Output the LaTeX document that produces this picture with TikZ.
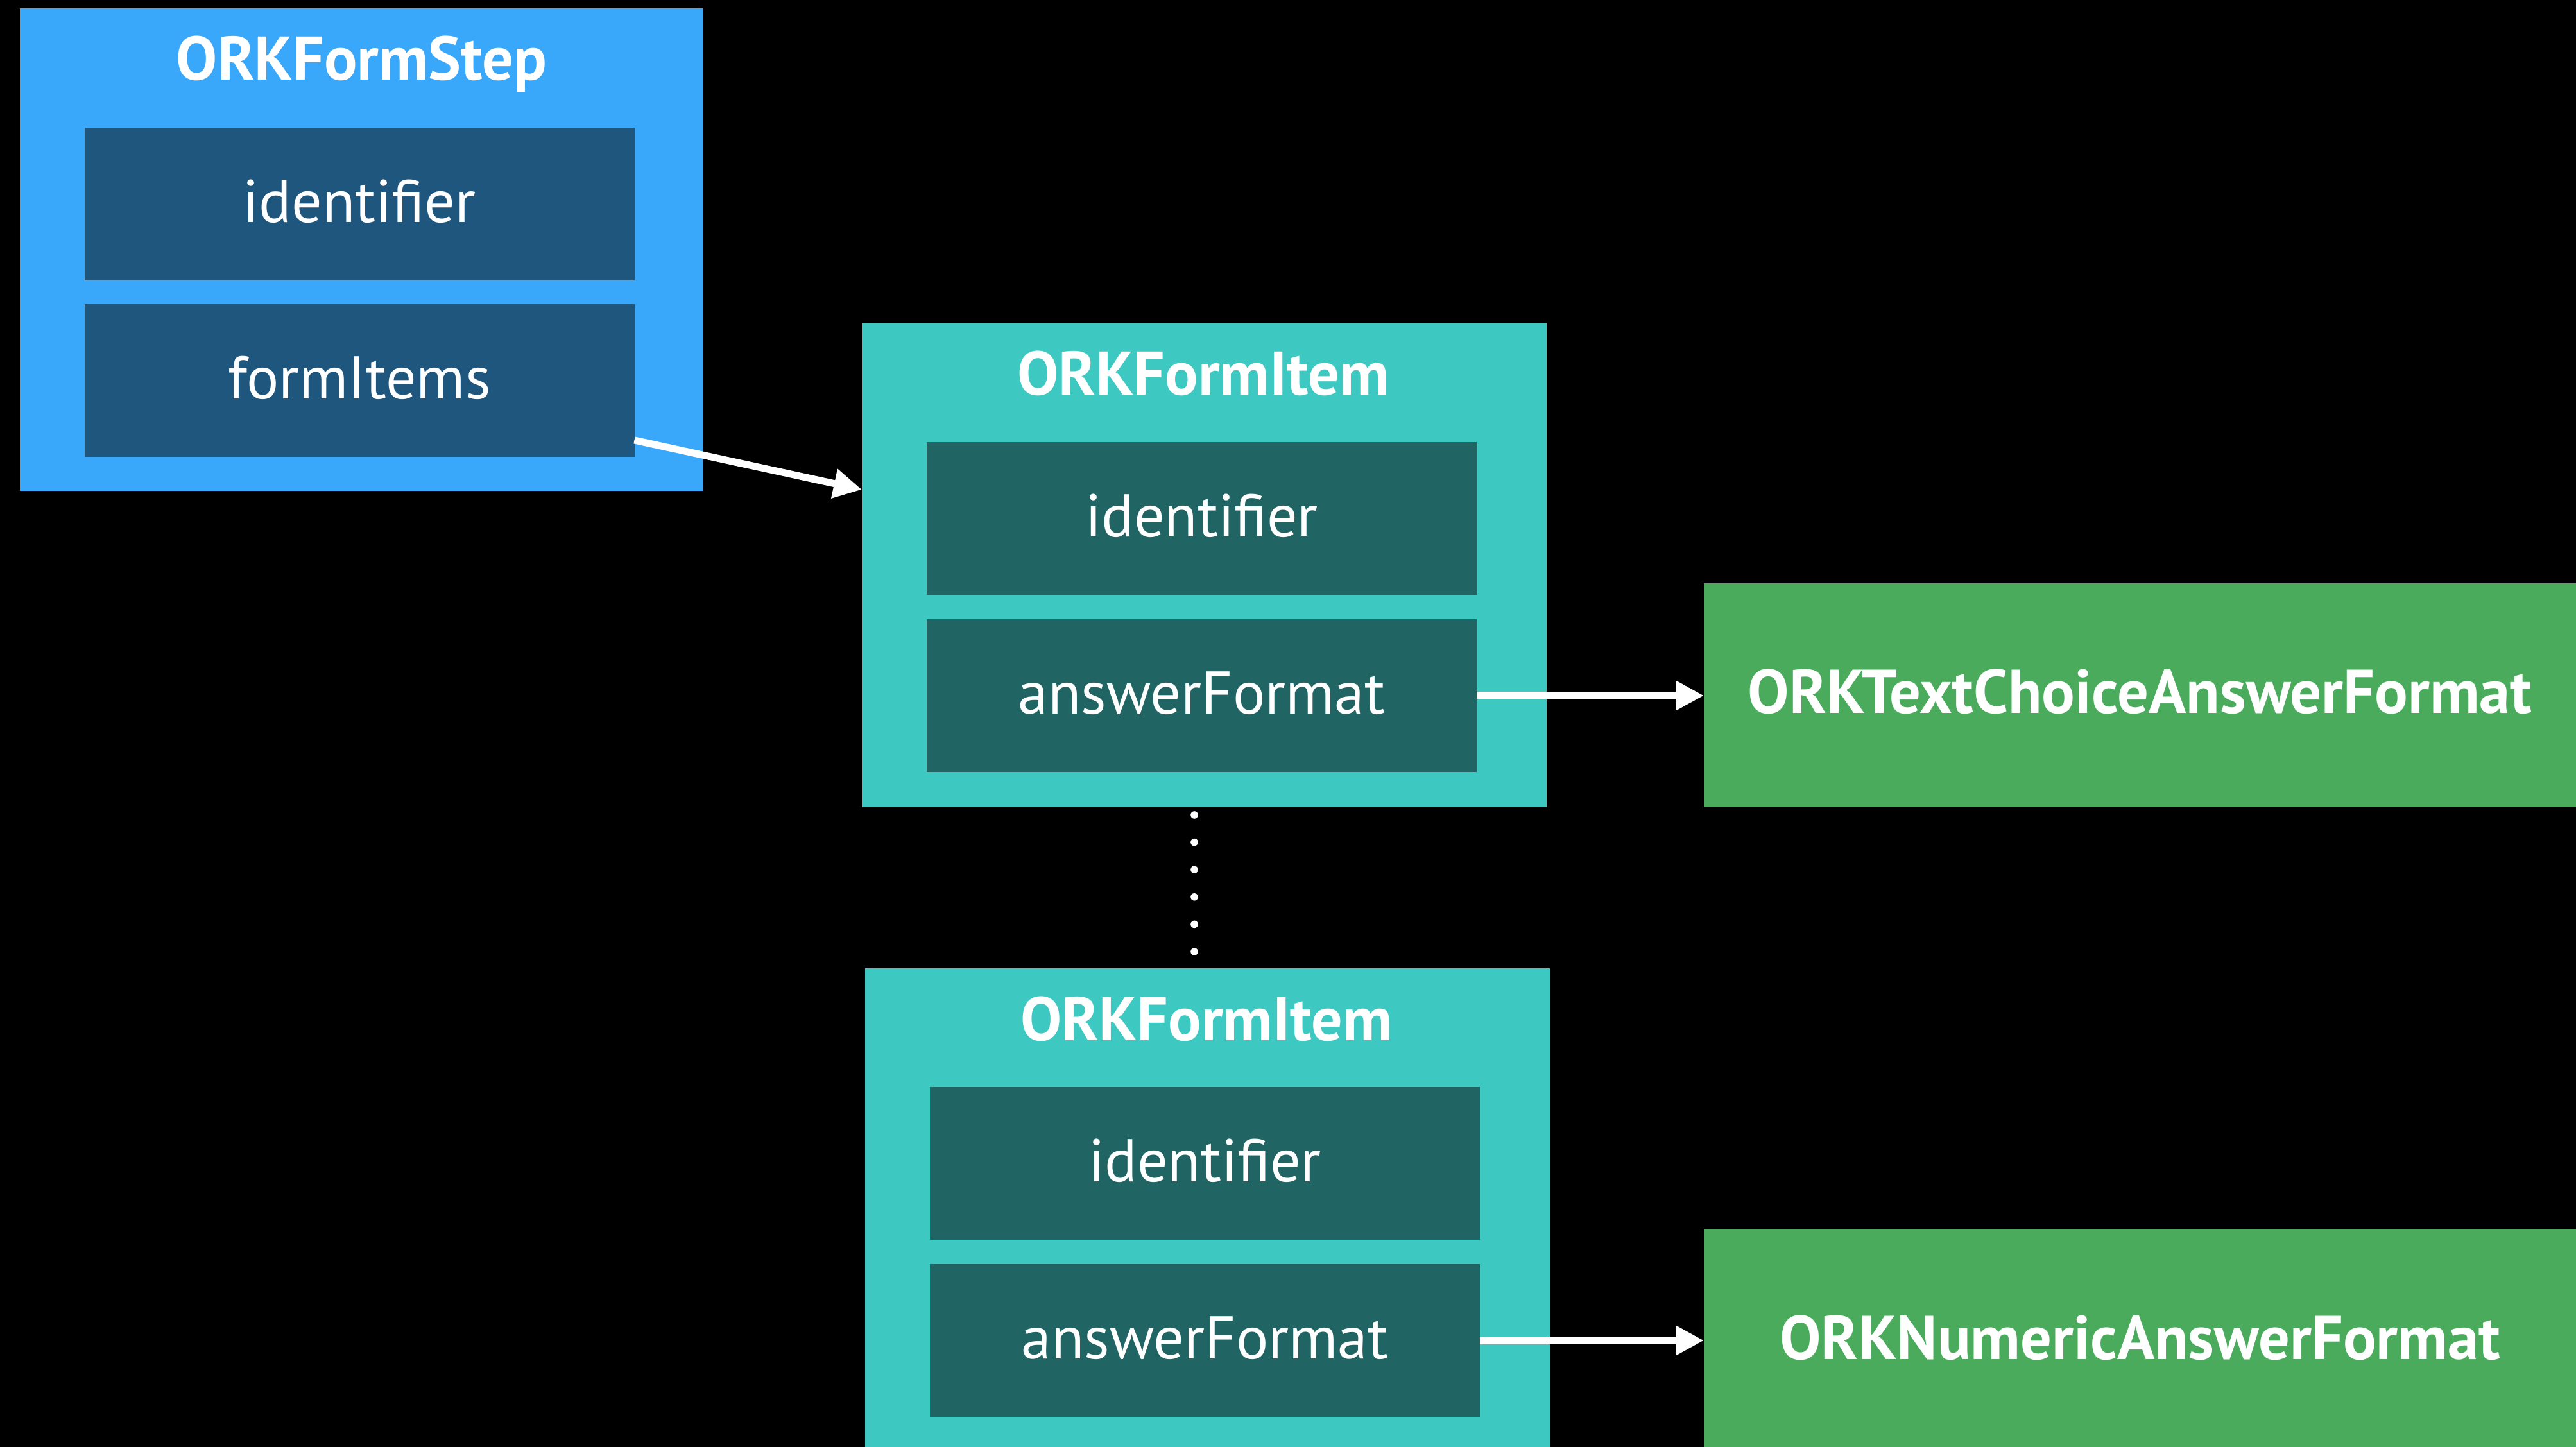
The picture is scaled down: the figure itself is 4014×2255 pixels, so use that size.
\documentclass[tikz,border=0pt]{standalone}
\usepackage{fontspec}
\setmainfont{PT Sans}
\usetikzlibrary{arrows.meta}
\definecolor{stepblue}{HTML}{3AA8FA}
\definecolor{stepdark}{HTML}{1F567E}
\definecolor{itemteal}{HTML}{3DC8C2}
\definecolor{itemdark}{HTML}{206563}
\definecolor{fmtgreen}{HTML}{49AB5B}
\begin{document}
\begin{tikzpicture}[x=0.25pt,y=-0.25pt,
  lbl/.style={text=white,font=\fontsize{23.5pt}{28pt}\selectfont},
  box/.style={inner sep=0pt,outer sep=0pt,minimum width=#1},
  outerbox/.style={box=266.75pt,minimum height=188.5pt},
  innerbox/.style={box=214.25pt,minimum height=59.5pt,lbl,text height=18pt,text depth=3.75pt},
  fmtbox/.style={box=339.75pt,minimum height=87.25pt,fill=fmtgreen,lbl,font=\fontsize{24.1pt}{28pt}\selectfont\bfseries,text height=18pt,text depth=3.75pt},
  ttl/.style={lbl,font=\fontsize{24pt}{28pt}\selectfont\bfseries,anchor=base,inner sep=0pt},
  arr/.style={draw=white,line width=2.75pt,-{Triangle[length=11pt,width=11pt]}},
  dotline/.style={draw=white,line width=2.9pt,line cap=round,dash pattern=on 0pt off 10.65pt}]
\path[use as bounding box,fill=black] (0,0) rectangle (4014,2255);
\clip (0,0) rectangle (4014,2255);

% ORKFormStep
\node[outerbox,minimum width=266.25pt,minimum height=188pt,fill=stepblue] (step) at (563.5,389) {};
\node[ttl] (steptitle) at (563.5,125) {ORKFormStep};
\node[innerbox,fill=stepdark] (stepid) at (560,318) {identifier};
\node[innerbox,fill=stepdark] (stepfi) at (560,593) {formItems};

% ORKFormItem 1
\node[outerbox,fill=itemteal] (item1) at (1876.5,881) {};
\node[ttl] (item1title) at (1875,616) {ORKFormItem};
\node[innerbox,fill=itemdark] (item1id) at (1872.5,808) {identifier};
\node[innerbox,fill=itemdark] (item1af) at (1872.5,1084) {answerFormat};

% ORKFormItem 2
\node[outerbox,fill=itemteal] (item2) at (1881.5,1886) {};
\node[ttl] (item2title) at (1880,1621) {ORKFormItem};
\node[innerbox,fill=itemdark] (item2id) at (1877.5,1813) {identifier};
\node[innerbox,fill=itemdark] (item2af) at (1877.5,2089) {answerFormat};

% answer formats
\node[fmtbox] (fmt1) at (3334.5,1083.5) {ORKTextChoiceAnswerFormat};
\node[fmtbox] (fmt2) at (3334.5,2089.5) {ORKNumericAnswerFormat};

% connectors
\draw[arr] ([yshift=6.5pt]stepfi.south east) -- ([yshift=-64.75pt]item1.north west);
\draw[arr] (item1af.east) -- (item1af.east -| fmt1.west);
\draw[arr] (item2af.east) -- (item2af.east -| fmt2.west);
\coordinate (dotA) at (1861,1270);
\coordinate (dotB) at (1861,1484);
\draw[dotline] (dotA) -- (dotB);
\end{tikzpicture}
\end{document}
